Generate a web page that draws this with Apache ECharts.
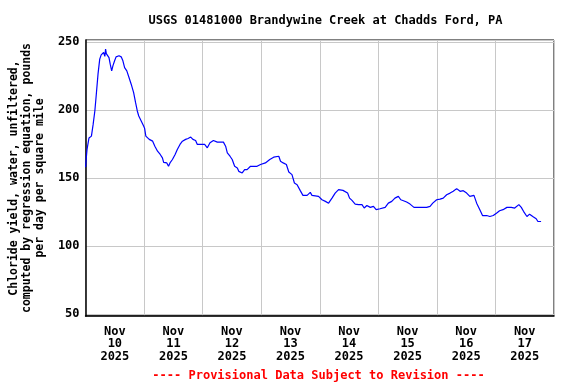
<!DOCTYPE html>
<html>
<head>
<meta charset="utf-8">
<script src="https://cdn.jsdelivr.net/npm/echarts@6/dist/echarts.min.js"></script>
<style>html,body{margin:0;padding:0;background:#fff}#c{width:576px;height:384px}</style>
</head>
<body>
<div id="c"></div>
<script>
// Hours since 2025-11-10 00:00
const hours = [0.0,0.3,0.6,1.4,2.4,3.1,3.8,4.4,5.1,5.8,6.4,7.4,7.9,8.2,8.5,8.8,9.6,10.1,10.7,11.2,11.9,12.5,13.7,14.6,15.3,16.0,16.9,17.8,18.7,19.7,20.5,21.2,21.8,22.8,23.8,24.2,24.7,26.1,27.5,28.4,29.5,30.6,31.5,32.0,32.5,33.3,34.0,34.6,35.6,36.7,37.6,38.7,39.7,41.0,42.0,43.1,44.0,45.1,45.8,47.2,48.8,49.9,51.0,52.4,54.0,56.5,57.4,58.1,59.2,60.1,61.1,62.2,62.8,64.2,65.2,66.2,67.6,69.0,70.3,71.7,73.7,75.5,77.1,79.2,79.9,81.0,82.3,83.3,84.6,85.6,86.7,88.0,89.1,90.8,92.1,92.8,95.5,96.9,98.3,99.6,101.0,102.3,103.7,105.5,107.4,108.2,109.2,110.5,111.9,113.3,114.2,115.3,116.7,118.0,119.1,120.7,122.8,124.1,125.5,126.8,128.2,129.2,130.3,131.6,133.0,134.6,137.1,139.8,141.2,142.3,143.9,145.3,146.6,148.0,149.4,150.7,152.1,153.5,154.8,156.2,157.5,159.2,160.3,161.6,162.7,164.4,165.7,167.1,168.4,169.7,171.1,172.7,174.5,175.9,177.6,178.6,179.5,180.9,182.0,183.3,184.7,185.4,186.7];
const chlorideYield = [158,165,171,179.5,180.8,189.4,199.3,211.6,226.4,237.4,240.6,242.3,239.5,244.8,241.5,241,238.6,233.7,228.8,232.5,236.2,239.1,239.9,239.1,236.2,231.2,228.8,223.9,219,212.8,205.4,199.3,195.6,191.9,188.2,186.5,180.8,178.4,177.1,173.4,169.7,167.3,164.8,161.5,162.3,161.1,158.6,161.1,163.6,167.3,171,174.7,177.1,178.4,179.1,180.1,178.4,177.6,174.7,174.7,174.7,172.2,175.9,177.6,176.4,176.4,173.4,168.5,166,163.6,158.6,157.4,154.9,153.7,156.2,156.2,158.6,158.6,158.6,159.9,161.1,163.6,165.3,166,162.3,161.1,159.9,154.4,152.5,146.3,145.1,140.7,137.2,137.2,139.4,137.2,136.5,134,132.8,131.5,135.2,138.9,141.4,140.9,138.9,135.2,133.5,130.8,130.4,130.4,127.9,129.8,128.4,129.1,126.7,127.4,128.4,131.5,132.8,135.2,136.5,134,133.3,132.3,130.8,128.4,128.4,128.4,129.1,131.5,134,134.5,135.2,137.7,138.9,140.2,142.2,140.2,140.7,138.9,136.5,137.2,131.5,126.7,122.4,122.4,121.7,122.4,124.1,125.9,126.7,128.4,128.4,127.9,130.4,128.4,125.5,121.7,123.4,121.7,120,118,118];
const dayLabels = ['Nov\n10\n2025','Nov\n11\n2025','Nov\n12\n2025','Nov\n13\n2025','Nov\n14\n2025','Nov\n15\n2025','Nov\n16\n2025','Nov\n17\n2025'];
const yTicks = [50,100,150,200,250];
const titleText = 'USGS 01481000 Brandywine Creek at Chadds Ford, PA';
const yName = 'Chloride yield, water, unfiltered,\ncomputed by regression equation, pounds\nper day per square mile';
const footText = '---- Provisional Data Subject to Revision ----';

const MONO = '"DejaVu Sans Mono", "Liberation Mono", monospace';
const chart = echarts.init(document.getElementById('c'), null, {renderer: 'canvas'});
chart.setOption({
  animation: false,
  backgroundColor: '#fff',
  grid: {left: 84, right: 22, top: 40, bottom: 68, show: true, borderColor: '#000', borderWidth: 1, containLabel: false},
  graphic: [
    {type: 'text', x: 325.5, y: 20.5, style: {text: titleText, textAlign: 'center', textVerticalAlign: 'middle', font: 'bold 12px ' + MONO, fill: '#000'}},
    {type: 'text', x: 318.5, y: 375.5, style: {text: footText, textAlign: 'center', textVerticalAlign: 'middle', font: 'bold 12px ' + MONO, fill: '#ff0000'}}
  ],
  xAxis: [
    {type: 'value', min: 0, max: 192, interval: 24, position: 'bottom',
     axisLabel: {show: false}, axisTick: {show: false},
     axisLine: {show: true, lineStyle: {color: '#000', width: 1.5}},
     splitLine: {show: true, lineStyle: {color: '#c8c8c8', width: 1}}},
    {type: 'category', data: dayLabels, position: 'bottom', boundaryGap: true,
     axisLine: {show: false}, axisTick: {show: false}, splitLine: {show: false},
     axisLabel: {margin: 9.5, lineHeight: 12.5, fontFamily: MONO, fontWeight: 'bold', fontSize: 12, color: '#000', interval: 0}}
  ],
  yAxis: {
    type: 'value', min: 48.5, max: 251.5, splitNumber: 4,
    axisLine: {show: true, lineStyle: {color: '#000', width: 1.5}},
    axisTick: {show: false},
    splitLine: {show: true, lineStyle: {color: '#c8c8c8', width: 1}},
    axisLabel: {margin: 6, fontFamily: MONO, fontWeight: 'bold', fontSize: 12, color: '#000',
      formatter: v => yTicks.indexOf(Math.round(v * 10) / 10) >= 0 ? String(v) : ''},
    name: yName, nameLocation: 'middle', nameRotate: 90, nameGap: 38,
    nameTextStyle: {fontFamily: MONO, fontWeight: 'bold', fontSize: 11.5, lineHeight: 13, color: '#000', align: 'center'}
  },
  series: [{
    type: 'line', xAxisIndex: 0, yAxisIndex: 0,
    data: hours.map((h, i) => [h, chlorideYield[i]]),
    showSymbol: false, symbol: 'none',
    lineStyle: {color: '#0000ff', width: 1.2},
    silent: true
  }]
});
</script>
</body>
</html>
